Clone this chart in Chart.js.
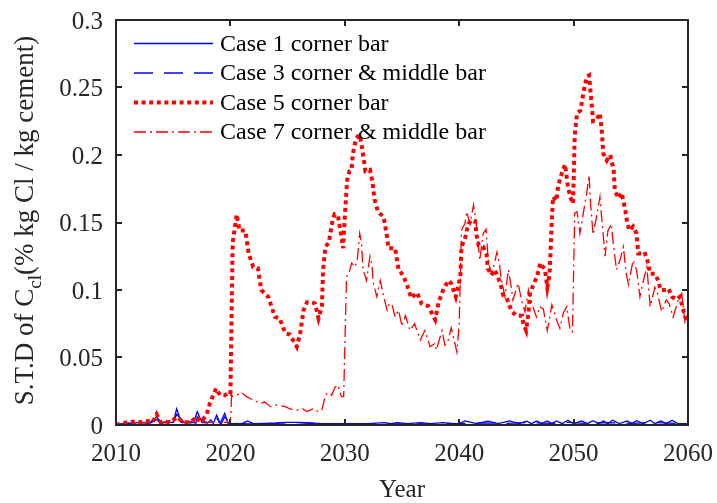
<!DOCTYPE html>
<html>
<head>
<meta charset="utf-8">
<script src="https://cdn.jsdelivr.net/npm/chart.js@4.4.1/dist/chart.umd.min.js"></script>
<style>
  html, body { margin: 0; padding: 0; background: #fff; }
  canvas { display: block; }
</style>
</head>
<body>
<canvas id="stdChart" width="717" height="503"></canvas>
<script>
// Case 1 corner bar (solid blue)
const case1Years = [2010, 2010.5, 2011, 2011.5, 2012, 2012.5, 2013, 2013.55, 2014, 2014.5, 2015, 2015.3, 2015.7, 2016.3, 2016.8, 2017.1, 2017.5, 2018, 2018.3, 2018.5, 2018.8, 2019.1, 2019.5, 2019.8, 2020.2, 2021, 2021.5, 2022, 2023, 2024, 2025, 2026, 2027, 2028, 2029, 2030, 2031, 2032, 2033.5, 2034, 2034.6, 2035.5, 2036.6, 2037.5, 2038.6, 2039.5, 2040, 2040.5, 2041.5, 2042.5, 2043.4, 2044.4, 2045.2, 2045.9, 2046.3, 2046.8, 2047.2, 2047.7, 2048.1, 2048.5, 2049, 2049.5, 2050, 2050.7, 2051.2, 2051.7, 2052.2, 2052.6, 2053, 2053.4, 2054, 2054.7, 2055.1, 2055.5, 2056.1, 2056.7, 2057.1, 2057.6, 2058.1, 2058.6, 2059.1, 2060];
const case1Values = [0, 0.001, 0.0015, 0.001, 0.002, 0.0015, 0.002, 0.006, 0.0015, 0.002, 0.002, 0.012, 0.002, 0.0015, 0.002, 0.010, 0.002, 0.0015, 0.0037, 0.001, 0.0074, 0.001, 0.0087, 0.001, 0.001, 0.001, 0.003, 0.001, 0.0012, 0.0015, 0.002, 0.002, 0.0015, 0.001, 0.001, 0.001, 0.001, 0.001, 0.0018, 0.001, 0.0018, 0.001, 0.0018, 0.001, 0.0018, 0.001, 0.001, 0.003, 0.001, 0.0028, 0.001, 0.003, 0.001, 0.0028, 0.001, 0.003, 0.001, 0.003, 0.001, 0.003, 0.001, 0.0035, 0.001, 0.003, 0.001, 0.0032, 0.001, 0.003, 0.001, 0.0035, 0.001, 0.003, 0.001, 0.0032, 0.001, 0.0035, 0.001, 0.003, 0.001, 0.0035, 0.001, 0.001];

// Case 3 corner & middle bar (dashed blue)
const case3Years = [2010, 2011, 2012, 2013, 2013.55, 2014, 2015, 2015.3, 2016, 2017, 2017.1, 2018, 2018.8, 2019.2, 2019.5, 2020, 2022, 2024, 2025.5, 2027, 2030, 2035, 2040, 2042, 2044, 2046, 2048, 2049.5, 2051, 2053, 2055, 2057, 2059, 2060];
const case3Values = [0, 0.001, 0.0015, 0.0015, 0.004, 0.0015, 0.0015, 0.008, 0.0015, 0.0015, 0.006, 0.0015, 0.005, 0.001, 0.006, 0.001, 0.0008, 0.0012, 0.0018, 0.0012, 0.0008, 0.0008, 0.001, 0.0015, 0.0012, 0.0018, 0.0012, 0.002, 0.0012, 0.0018, 0.0012, 0.0018, 0.0012, 0.001];

// Case 5 corner bar (dotted red)
const case5Years = [2010, 2010.4, 2011, 2011.7, 2012.2, 2012.8, 2013.2, 2013.55, 2013.9, 2014.3, 2014.8, 2015.3, 2015.9, 2016.5, 2017.05, 2017.4, 2017.9, 2018.2, 2018.75, 2019.1, 2019.5, 2019.8, 2020, 2020.2, 2020.55, 2020.8, 2021.3, 2021.6, 2022, 2022.4, 2022.7, 2023.3, 2023.9, 2024.3, 2024.8, 2025.2, 2025.8, 2026.1, 2026.4, 2026.7, 2027.1, 2027.4, 2027.7, 2028, 2028.1, 2028.3, 2028.6, 2028.9, 2029.1, 2029.4, 2029.7, 2029.85, 2030, 2030.2, 2030.4, 2030.6, 2030.7, 2031, 2031.3, 2031.5, 2031.8, 2032.2, 2032.4, 2032.6, 2032.9, 2033.4, 2033.7, 2033.8, 2034.4, 2034.7, 2035.1, 2035.6, 2035.8, 2036.3, 2036.7, 2037.3, 2037.9, 2038.2, 2038.6, 2039.05, 2039.3, 2039.7, 2040.1, 2040.2, 2040.5, 2040.8, 2041.1, 2041.4, 2041.5, 2041.7, 2042.1, 2042.4, 2042.5, 2042.8, 2043.1, 2043.6, 2043.85, 2044.15, 2044.6, 2045, 2045.5, 2045.6, 2045.85, 2046.05, 2046.2, 2046.5, 2046.8, 2047.1, 2047.5, 2047.7, 2047.9, 2048, 2048.1, 2048.2, 2048.5, 2048.65, 2048.95, 2049.25, 2049.5, 2049.7, 2049.95, 2050.1, 2050.3, 2050.6, 2050.85, 2051.15, 2051.35, 2051.6, 2051.7, 2052, 2052.3, 2052.45, 2052.6, 2052.9, 2053.2, 2053.5, 2053.6, 2053.9, 2054.2, 2054.5, 2054.7, 2054.9, 2055.2, 2055.5, 2055.65, 2055.95, 2056.2, 2056.45, 2056.7, 2057.1, 2057.4, 2057.6, 2058.1, 2058.3, 2058.6, 2059, 2059.3, 2059.5, 2059.75, 2060];
const case5Values = [0, 0.001, 0.002, 0.0025, 0.002, 0.003, 0.002, 0.008, 0.002, 0.0025, 0.002, 0.006, 0.002, 0.002, 0.006, 0.0025, 0.007, 0.016, 0.027, 0.022, 0.022, 0.0235, 0.023, 0.135, 0.156, 0.144, 0.144, 0.127, 0.117, 0.116, 0.100, 0.095, 0.080, 0.079, 0.068, 0.067, 0.058, 0.068, 0.085, 0.091, 0.091, 0.090, 0.079, 0.088, 0.115, 0.132, 0.135, 0.150, 0.156, 0.155, 0.140, 0.131, 0.154, 0.181, 0.188, 0.189, 0.201, 0.2125, 0.215, 0.206, 0.188, 0.189, 0.181, 0.167, 0.158, 0.154, 0.139, 0.131, 0.131, 0.115, 0.111, 0.100, 0.094, 0.098, 0.090, 0.088, 0.078, 0.091, 0.100, 0.107, 0.105, 0.095, 0.110, 0.132, 0.138, 0.149, 0.152, 0.151, 0.141, 0.133, 0.132, 0.126, 0.116, 0.111, 0.115, 0.105, 0.096, 0.094, 0.084, 0.081, 0.081, 0.0755, 0.070, 0.083, 0.098, 0.104, 0.110, 0.120, 0.115, 0.102, 0.112, 0.132, 0.152, 0.169, 0.166, 0.177, 0.186, 0.193, 0.177, 0.169, 0.164, 0.214, 0.231, 0.233, 0.246, 0.258, 0.259, 0.236, 0.225, 0.226, 0.231, 0.219, 0.201, 0.196, 0.200, 0.189, 0.174, 0.168, 0.172, 0.160, 0.149, 0.144, 0.147, 0.142, 0.127, 0.127, 0.128, 0.122, 0.112, 0.112, 0.107, 0.100, 0.100, 0.101, 0.095, 0.093, 0.095, 0.088, 0.080, 0.078];

// Case 7 corner & middle bar (dash-dot red)
const case7Years = [2010, 2011, 2012, 2013, 2013.55, 2014, 2015.3, 2016, 2017, 2018, 2019, 2020, 2020.1, 2020.55, 2021, 2021.4, 2022, 2022.6, 2023, 2023.5, 2024.05, 2024.8, 2025.2, 2025.8, 2026.3, 2026.7, 2027.25, 2027.7, 2028, 2028.3, 2028.55, 2028.85, 2029.15, 2029.4, 2029.7, 2029.9, 2030.15, 2030.35, 2030.6, 2030.9, 2031.1, 2031.3, 2031.45, 2031.6, 2031.9, 2032.2, 2032.35, 2032.5, 2032.8, 2033.1, 2033.4, 2033.7, 2033.85, 2034.1, 2034.4, 2034.7, 2035, 2035.3, 2035.7, 2036.1, 2036.6, 2037, 2037.45, 2037.9, 2038, 2038.5, 2038.75, 2039.05, 2039.3, 2039.8, 2040, 2040.2, 2040.35, 2040.5, 2040.65, 2040.95, 2041.25, 2041.4, 2041.55, 2041.8, 2042.1, 2042.35, 2042.55, 2042.85, 2043.3, 2043.5, 2043.7, 2044, 2044.3, 2044.55, 2044.7, 2045.15, 2045.45, 2045.75, 2046.05, 2046.35, 2046.75, 2047.05, 2047.35, 2047.7, 2048.1, 2048.5, 2048.8, 2049.1, 2049.4, 2049.7, 2049.9, 2050.1, 2050.3, 2050.55, 2050.85, 2051.15, 2051.35, 2051.5, 2051.7, 2052, 2052.3, 2052.45, 2052.75, 2053, 2053.3, 2053.5, 2053.75, 2054.05, 2054.35, 2054.6, 2054.8, 2055.2, 2055.5, 2055.8, 2056.1, 2056.4, 2056.7, 2057.1, 2057.35, 2057.7, 2058.1, 2058.35, 2058.7, 2059.15, 2059.45, 2059.75, 2060];
const case7Values = [0, 0.001, 0.002, 0.002, 0.004, 0.002, 0.004, 0.002, 0.003, 0.002, 0.002, 0.002, 0.021, 0.022, 0.024, 0.021, 0.0185, 0.016, 0.017, 0.0136, 0.0148, 0.0136, 0.012, 0.011, 0.012, 0.0099, 0.012, 0.0099, 0.011, 0.022, 0.024, 0.022, 0.028, 0.0296, 0.021, 0.021, 0.110, 0.112, 0.120, 0.117, 0.123, 0.142, 0.135, 0.115, 0.107, 0.125, 0.120, 0.105, 0.095, 0.107, 0.095, 0.085, 0.089, 0.090, 0.080, 0.085, 0.073, 0.081, 0.070, 0.075, 0.063, 0.070, 0.058, 0.0605, 0.0555, 0.070, 0.059, 0.063, 0.072, 0.054, 0.075, 0.144, 0.147, 0.149, 0.158, 0.149, 0.163, 0.155, 0.144, 0.122, 0.142, 0.145, 0.120, 0.112, 0.128, 0.120, 0.107, 0.095, 0.115, 0.102, 0.0926, 0.105, 0.0926, 0.084, 0.100, 0.090, 0.080, 0.0877, 0.086, 0.070, 0.089, 0.078, 0.0716, 0.083, 0.0877, 0.070, 0.069, 0.157, 0.158, 0.142, 0.157, 0.172, 0.185, 0.162, 0.141, 0.154, 0.169, 0.154, 0.125, 0.144, 0.149, 0.132, 0.115, 0.122, 0.132, 0.112, 0.104, 0.122, 0.115, 0.095, 0.107, 0.117, 0.0877, 0.102, 0.097, 0.084, 0.0926, 0.090, 0.080, 0.0926, 0.0975, 0.075, 0.077];

const seriesLabels = ['Case 1 corner bar', 'Case 3 corner & middle bar', 'Case 5 corner bar', 'Case 7 corner & middle bar'];
const xTicks = [2010, 2020, 2030, 2040, 2050, 2060];
const yTicks = [0, 0.05, 0.1, 0.15, 0.2, 0.25, 0.3];

const FONT = '"Liberation Serif", "Times New Roman", serif';
const AXIS_COLOR = '#262626';

function toPoints(xs, ys) {
    return xs.map((x, i) => ({ x: x, y: ys[i] }));
}

const lineStyles = [
    { color: '#0000ff', width: 1.3, dash: [] },
    { color: '#0000ff', width: 1.3, dash: [19, 11] },
    { color: '#ff0000', width: 4, dash: [4, 3.6] },
    { color: '#ff0000', width: 1.3, dash: [12, 4, 2, 4] }
];

const allSeries = [
    toPoints(case1Years, case1Values),
    toPoints(case3Years, case3Values),
    toPoints(case5Years, case5Values),
    toPoints(case7Years, case7Values)
];

// box, inward ticks, axis titles and the in-plot legend
const decorPlugin = {
    id: 'decor',
    afterDraw(chart) {
        const ctx = chart.ctx;
        const area = chart.chartArea;
        const xs = chart.scales.x;
        const ys = chart.scales.y;
        const tick = 6;

        ctx.save();
        ctx.strokeStyle = AXIS_COLOR;
        ctx.lineWidth = 2;
        ctx.setLineDash([]);
        ctx.beginPath();
        xTicks.forEach(v => {
            const px = Math.round(xs.getPixelForValue(v));
            ctx.moveTo(px, area.bottom); ctx.lineTo(px, area.bottom - tick);
            ctx.moveTo(px, area.top); ctx.lineTo(px, area.top + tick);
        });
        yTicks.forEach(v => {
            const py = Math.round(ys.getPixelForValue(v));
            ctx.moveTo(area.left, py); ctx.lineTo(area.left + tick, py);
            ctx.moveTo(area.right, py); ctx.lineTo(area.right - tick, py);
        });
        ctx.stroke();
        ctx.strokeRect(area.left, area.top, area.right - area.left, area.bottom - area.top);

        // x title
        ctx.fillStyle = AXIS_COLOR;
        ctx.font = '25px ' + FONT;
        ctx.textAlign = 'center';
        ctx.textBaseline = 'alphabetic';
        ctx.fillText('Year', (area.left + area.right) / 2, 497);

        // y title with subscript
        const main1 = 'S.T.D of C';
        const sub = 'cl';
        const main2 = '(% kg Cl / kg cement)';
        const mainFont = '27px ' + FONT;
        const subFont = '19px ' + FONT;
        ctx.font = mainFont;
        const w1 = ctx.measureText(main1).width;
        const w3 = ctx.measureText(main2).width;
        ctx.font = subFont;
        const w2 = ctx.measureText(sub).width;
        const total = w1 + w2 + w3;
        ctx.translate(33, (area.top + area.bottom) / 2 - 2);
        ctx.rotate(-Math.PI / 2);
        ctx.textAlign = 'left';
        let cx = -total / 2;
        ctx.font = mainFont;
        ctx.fillText(main1, cx, 0);
        cx += w1;
        ctx.font = subFont;
        ctx.fillText(sub, cx, 8);
        cx += w2;
        ctx.font = mainFont;
        ctx.fillText(main2, cx, 0);
        ctx.restore();

        // legend
        ctx.save();
        const rowY = [43.5, 73, 102.5, 132];
        ctx.font = '24px ' + FONT;
        ctx.textBaseline = 'middle';
        ctx.textAlign = 'left';
        seriesLabels.forEach((label, i) => {
            const st = lineStyles[i];
            ctx.strokeStyle = st.color;
            ctx.lineWidth = st.width;
            ctx.setLineDash(st.dash);
            ctx.lineDashOffset = 0;
            ctx.beginPath();
            ctx.moveTo(134, rowY[i]);
            ctx.lineTo(213, rowY[i]);
            ctx.stroke();
            ctx.fillStyle = '#000';
            ctx.fillText(label, 220, rowY[i] + 1);
        });
        ctx.restore();
    }
};

const ctx = document.getElementById('stdChart').getContext('2d');
new Chart(ctx, {
    type: 'line',
    data: {
        datasets: allSeries.map((pts, i) => ({
            label: seriesLabels[i],
            data: pts,
            borderColor: lineStyles[i].color,
            backgroundColor: lineStyles[i].color,
            borderWidth: lineStyles[i].width,
            borderDash: lineStyles[i].dash,
            borderCapStyle: 'butt',
            borderJoinStyle: 'miter',
            pointRadius: 0,
            tension: 0,
            fill: false,
            order: 4 - i
        }))
    },
    options: {
        responsive: false,
        animation: false,
        devicePixelRatio: 1,
        layout: { padding: { top: 20, right: 29, left: 0, bottom: 0 } },
        plugins: {
            legend: { display: false },
            tooltip: { enabled: false }
        },
        scales: {
            x: {
                type: 'linear',
                min: 2010,
                max: 2060,
                // keep the plot box fixed; end labels may overhang into the margin
                afterFit: s => { s.height = 78; s.paddingLeft = 0; s.paddingRight = 0; },
                afterBuildTicks: s => { s.ticks = xTicks.map(v => ({ value: v })); },
                grid: { display: false, drawTicks: false },
                border: { display: false },
                ticks: {
                    padding: 14,
                    color: AXIS_COLOR,
                    font: { family: FONT, size: 25 },
                    maxRotation: 0,
                    callback: v => String(v)
                }
            },
            y: {
                type: 'linear',
                min: 0,
                max: 0.3,
                afterFit: s => { s.width = 116; s.paddingTop = 0; s.paddingBottom = 0; },
                afterBuildTicks: s => { s.ticks = yTicks.map(v => ({ value: v })); },
                grid: { display: false, drawTicks: false },
                border: { display: false },
                ticks: {
                    padding: 13,
                    labelOffset: 2,
                    color: AXIS_COLOR,
                    font: { family: FONT, size: 25 },
                    callback: v => String(+v.toFixed(2))
                }
            }
        }
    },
    plugins: [decorPlugin]
});
</script>
</body>
</html>
